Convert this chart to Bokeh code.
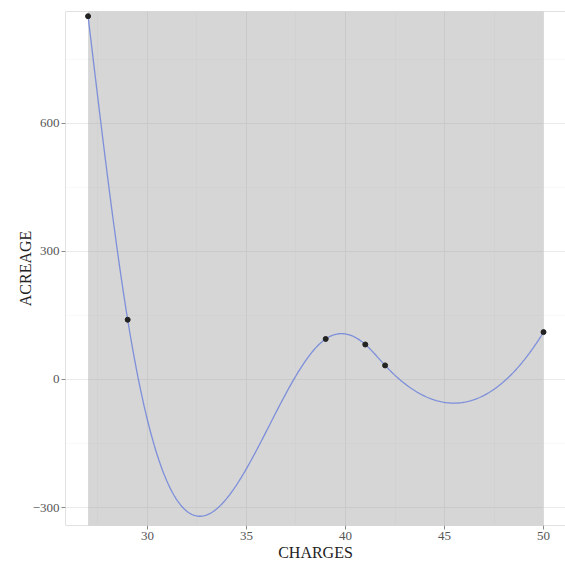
import numpy as np
from bokeh.plotting import figure
from bokeh.models import Range1d, FixedTicker, Span
from bokeh.embed import file_html
from bokeh.resources import INLINE

# data
charges = [27, 29, 39, 41, 42, 50]
acreage = [851, 140, 95, 82, 33, 111]
x_ticks = [30, 35, 40, 45, 50]
y_ticks = [-300, 0, 300, 600]
x_label = "CHARGES"
y_label = "ACREAGE"


def cubic_spline(x, y, t, m_left=0.0, m_right=0.0):
    """Interpolating cubic spline with given end second derivatives."""
    x = np.asarray(x, float); y = np.asarray(y, float)
    n = len(x); h = np.diff(x); d = np.diff(y) / h
    A = np.zeros((n, n)); r = np.zeros(n)
    A[0, 0] = 1; r[0] = m_left
    A[-1, -1] = 1; r[-1] = m_right
    for i in range(1, n - 1):
        A[i, i - 1] = h[i - 1]; A[i, i] = 2 * (h[i - 1] + h[i]); A[i, i + 1] = h[i]
        r[i] = 6 * (d[i] - d[i - 1])
    M = np.linalg.solve(A, r)
    out = np.empty_like(t)
    for j, tt in enumerate(t):
        i = int(np.clip(np.searchsorted(x, tt, side="right") - 1, 0, n - 2))
        a = x[i + 1] - tt; b = tt - x[i]; hi = h[i]
        out[j] = ((M[i] * a ** 3 + M[i + 1] * b ** 3) / (6 * hi)
                  + (y[i] / hi - M[i] * hi / 6) * a + (y[i + 1] / hi - M[i + 1] * hi / 6) * b)
    return out


xs = np.linspace(min(charges), max(charges), 400)
ys = cubic_spline(charges, acreage, xs, 0.0, 18.0)

FONT = "Liberation Serif"

xr = Range1d(25.86, 51.11)
yr = Range1d(-342, 862)
p = figure(width=565, height=563, output_backend="svg", toolbar_location=None,
           x_range=xr, y_range=yr,
           min_border_left=65, min_border_right=0, min_border_top=11,
           min_border_bottom=38)

p.background_fill_color = "white"
p.border_fill_color = "white"
p.outline_line_color = None

p.xaxis.ticker = FixedTicker(ticks=x_ticks, minor_ticks=[27.5, 32.5, 37.5, 42.5, 47.5])
p.yaxis.ticker = FixedTicker(ticks=y_ticks, minor_ticks=[-150, 150, 450, 750])

p.xgrid.grid_line_color = "#ebebeb"
p.ygrid.grid_line_color = "#ebebeb"
p.xgrid.minor_grid_line_color = "#f3f3f3"
p.ygrid.minor_grid_line_color = "#f3f3f3"
p.xgrid.minor_grid_line_width = 0.5
p.ygrid.minor_grid_line_width = 0.5

for ax in (p.xaxis[0], p.yaxis[0]):
    ax.axis_line_color = None
    ax.major_tick_line_color = "#8a8a8a"
    ax.major_tick_in = 0
    ax.major_tick_out = 4
    ax.minor_tick_line_color = None
    ax.major_label_text_font = FONT
    ax.major_label_text_font_size = "13px"
    ax.major_label_text_color = "#555555"
    ax.axis_label_text_font = FONT
    ax.axis_label_text_font_size = "16px"
    ax.axis_label_text_font_style = "normal"
    ax.axis_label_text_color = "#222222"
    ax.major_label_standoff = 2
    ax.axis_label_standoff = 1
p.yaxis[0].axis_label_standoff = -4

p.xaxis.axis_label = x_label
p.yaxis.axis_label = y_label

# panel border (left, top, bottom; the right edge lies outside the picture)
for loc, dim in ((xr.start, "height"), (yr.end, "width"), (yr.start, "width")):
    p.add_layout(Span(location=loc, dimension=dim, line_color="#c4c4c4", line_width=1))

# confidence band (wider than the panel) over the fitted range
p.quad(left=[min(charges)], right=[max(charges)], bottom=[-5000], top=[5000],
       fill_color="#999999", fill_alpha=0.4, line_color=None)

p.line(xs, ys, line_color="#6d83db", line_width=1.3, line_alpha=0.85)
p.scatter(charges, acreage, size=5, fill_color="#222222", line_color="#222222")

open("out.html", "w").write(file_html(p, INLINE))
